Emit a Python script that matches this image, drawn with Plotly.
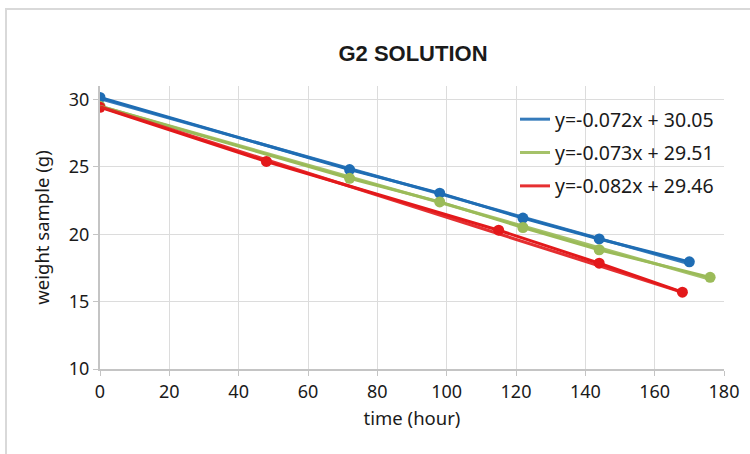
import plotly.graph_objects as go

# ---- data ----
blue_x = [0, 72, 98, 122, 144, 170]
blue_y = [30.15, 24.8, 23.05, 21.2, 19.65, 17.95]
green_x = [0, 72, 98, 122, 144, 176]
green_y = [29.5, 24.15, 22.4, 20.5, 18.85, 16.8]
red_x = [0, 48, 115, 144, 168]
red_y = [29.42, 25.4, 20.3, 17.85, 15.7]

slopes = [-0.072, -0.073, -0.082]
intercepts = [30.05, 29.51, 29.46]
labels = ["y=-0.072x + 30.05", "y=-0.073x + 29.51", "y=-0.082x + 29.46"]
colors = ["#1f6db4", "#9bbb59", "#e3191b"]

x_ticks = [0, 20, 40, 60, 80, 100, 120, 140, 160, 180]
y_ticks = [10, 15, 20, 25, 30]

series = [(blue_x, blue_y), (green_x, green_y), (red_x, red_y)]

fig = go.Figure()
for i, (xs, ys) in enumerate(series):
    c = colors[i]
    fig.add_trace(go.Scatter(x=xs, y=ys, mode="lines+markers",
                             line=dict(color=c, width=3),
                             marker=dict(color=c, size=11),
                             showlegend=False, legendgroup=f"g{i}", hoverinfo="skip"))
for i, (xs, ys) in enumerate(series):
    c = colors[i]
    tx = [xs[0], xs[-1]]
    ty = [slopes[i] * v + intercepts[i] for v in tx]
    fig.add_trace(go.Scatter(x=tx, y=ty, mode="lines", name=labels[i],
                             line=dict(color=c, width=3),
                             opacity=0.9,
                             legendgroup=f"g{i}", showlegend=True))

L, R, T, B = 100, 26, 86, 85
W, H = 750, 454
pw, ph = W - L - R, H - T - B

fig.add_shape(type="rect", xref="paper", yref="paper",
              x0=(6 - L) / pw, x1=(W + 5 - L) / pw,
              y0=-(B + 5) / ph, y1=(H - B - 9) / ph,
              line=dict(color="#d9d9d9", width=2), fillcolor="rgba(0,0,0,0)",
              layer="below")

font = "Noto Sans, Open Sans, sans-serif"
fig.update_layout(
    width=W, height=H,
    margin=dict(l=L, r=R, t=T, b=B),
    paper_bgcolor="white", plot_bgcolor="white",
    font=dict(family=font, color="#1a1a1a", size=18),
    title=dict(text="<b>G2 SOLUTION</b>", x=(413) / W, xanchor="center",
               y=1 - 53 / H, yanchor="middle",
               font=dict(family="Liberation Sans, Arial, sans-serif", size=22, color="#1a1a1a")),
    legend=dict(x=(515 - L) / pw, y=(H - B - 100) / ph, xanchor="left", yanchor="top",
                bgcolor="rgba(0,0,0,0)", font=dict(size=19.5),
                traceorder="grouped", tracegroupgap=5),
    xaxis=dict(range=[0, 180], tickvals=x_ticks, showgrid=True, gridcolor="#dcdcdc", gridwidth=1,
               showline=True, linecolor="#c4c4c4", linewidth=2, ticks="outside", ticklen=5,
               tickcolor="#c4c4c4", zeroline=False, tickfont=dict(size=18),
               title=dict(text="time (hour)", font=dict(size=18.5), standoff=10)),
    yaxis=dict(range=[10, 31], tickvals=y_ticks, showgrid=True, gridcolor="#dcdcdc", gridwidth=1,
               showline=True, linecolor="#c4c4c4", linewidth=2, ticks="outside", ticklen=5,
               tickcolor="#c4c4c4", zeroline=False, tickfont=dict(size=18),
               title=dict(text="weight sample (g)", font=dict(size=18.5), standoff=14)),
)

fig.write_html("out.html")
